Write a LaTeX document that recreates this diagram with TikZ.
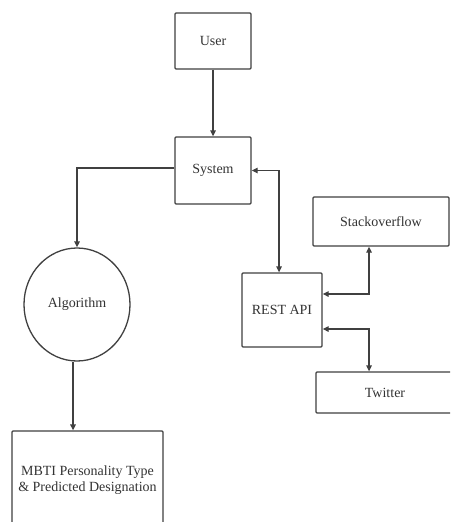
\documentclass[tikz,border=0pt]{standalone}
\usepackage{fontspec}
\setmainfont{Liberation Serif}
\usetikzlibrary{arrows.meta,shapes.geometric}
\begin{document}
\begin{tikzpicture}[x=1pt,y=-1pt,
  every node/.style={font=\fontsize{14}{16}\selectfont, text=black!80},
  box/.style={draw=black!75, line width=1.3pt, rectangle, rounded corners=1pt, inner sep=0pt, align=center},
  conn/.style={draw=black!75, line width=1.3pt},
  tip/.style={-{Triangle[length=6pt,width=5.5pt]}},
  both/.style={{Triangle[length=6pt,width=5.5pt]}-{Triangle[length=6pt,width=5.5pt]}}]
\clip (0,0) rectangle (450,522);
\fill[white] (0,0) rectangle (450,522);
\node[box, minimum width=76pt, minimum height=56pt] (user) at (213,41) {User};
\node[box, minimum width=76pt, minimum height=67pt] (system) at (213,170.5) {System};
\node[draw=black!75, line width=1.3pt, ellipse, minimum width=106pt, minimum height=113pt, inner sep=0pt] (alg) at (77,304.5) {Algorithm};
\node[box, minimum width=80pt, minimum height=74pt] (rest) at (282,310) {REST API};
\node[box, minimum width=136pt, minimum height=49pt] (stack) at (381,221.5) {Stackoverflow};
\node[box, minimum width=138pt, minimum height=41pt] (twitter) at (385,392.5) {Twitter};
\node[box, minimum width=151pt, minimum height=98pt] (mbti) at (87.5,480) {MBTI Personality Type\\\& Predicted Designation};
\draw[conn, tip] (user.south) -- (system.north);
\draw[conn, tip] ([yshift=2.5pt]system.west) -| (alg.north);
\draw[conn, both] (system.east) -| ([xshift=-3pt]rest.north);
\draw[conn, both] ([yshift=16pt]rest.east) -| ([xshift=-12pt]stack.south);
\draw[conn, both] ([yshift=-19pt]rest.east) -| ([xshift=-16pt]twitter.north);
\draw[conn, tip] ([xshift=-4pt]alg.south) -- ([xshift=-4pt]alg.south |- mbti.north);
\end{tikzpicture}
\end{document}
